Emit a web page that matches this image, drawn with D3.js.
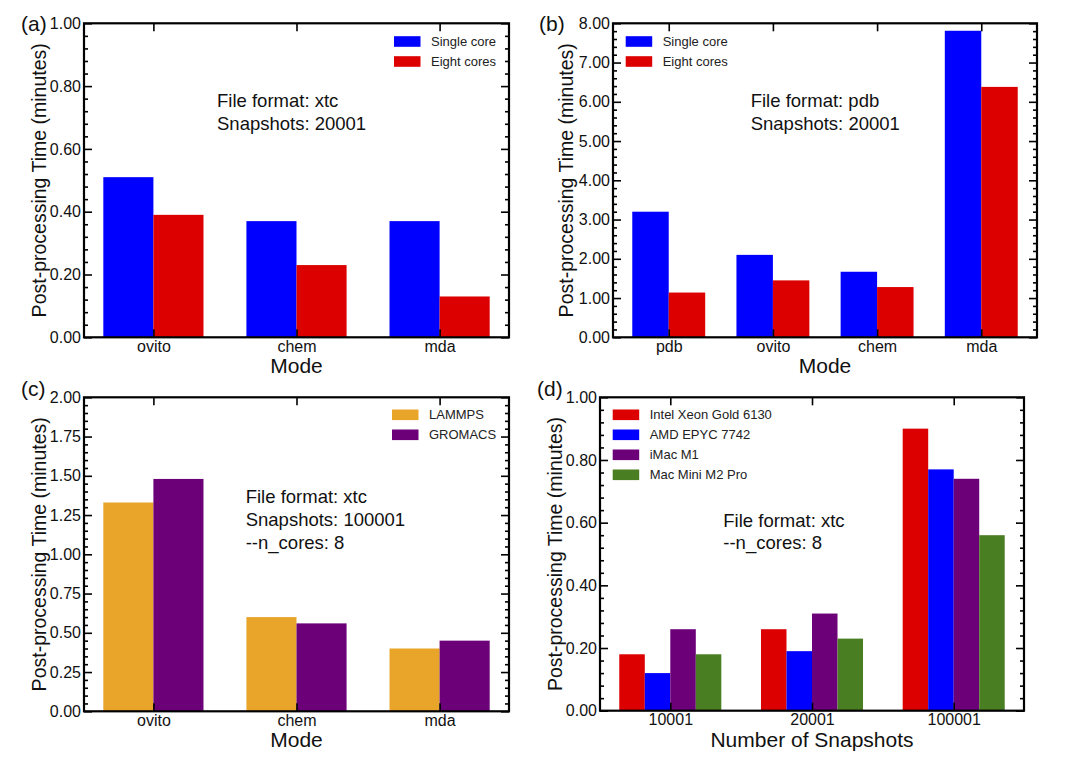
<!DOCTYPE html>
<html>
<head>
<meta charset="utf-8">
<script src="https://cdn.jsdelivr.net/npm/d3@7"></script>
<style>
  html, body { margin: 0; padding: 0; background: #fff; }
  svg { display: block; }
</style>
</head>
<body>
<svg id="chart" width="1080" height="768"></svg>
<script>
// ---------------- DATA ----------------
const modesA = ["ovito", "chem", "mda"];
const singleCoreA = [0.51, 0.37, 0.37];
const eightCoresA = [0.39, 0.23, 0.13];

const modesB = ["pdb", "ovito", "chem", "mda"];
const singleCoreB = [3.20, 2.10, 1.67, 7.81];
const eightCoresB = [1.14, 1.45, 1.28, 6.38];

const modesC = ["ovito", "chem", "mda"];
const lammpsC = [1.33, 0.60, 0.40];
const gromacsC = [1.48, 0.56, 0.45];

const snapshotsD = ["10001", "20001", "100001"];
const intelD = [0.18, 0.26, 0.90];
const amdD = [0.12, 0.19, 0.77];
const imacD = [0.26, 0.31, 0.74];
const macMiniD = [0.18, 0.23, 0.56];

const yTicksA = [0, 0.2, 0.4, 0.6, 0.8, 1.0];
const yTicksB = [0, 1, 2, 3, 4, 5, 6, 7, 8];
const yTicksC = [0, 0.25, 0.5, 0.75, 1.0, 1.25, 1.5, 1.75, 2.0];
const yTicksD = [0, 0.2, 0.4, 0.6, 0.8, 1.0];

const seriesNamesA = ["Single core", "Eight cores"];
const seriesNamesC = ["LAMMPS", "GROMACS"];
const seriesNamesD = ["Intel Xeon Gold 6130", "AMD EPYC 7742", "iMac M1", "Mac Mini M2 Pro"];

const notesA = ["File format: xtc", "Snapshots: 20001"];
const notesB = ["File format: pdb", "Snapshots: 20001"];
const notesC = ["File format: xtc", "Snapshots: 100001", "--n_cores: 8"];
const notesD = ["File format: xtc", "--n_cores: 8"];

// ---------------- STYLE ----------------
const FONT = "'Liberation Sans', Arial, Helvetica, sans-serif";
const BLUE = "#0000FF", RED = "#DC0000", ORANGE = "#E8A52A", PURPLE = "#6C0078", GREEN = "#4A7E23";
const svg = d3.select("#chart");

function drawPanel(cfg) {
  const g = svg.append("g");
  const n = cfg.cats.length;
  const k = cfg.series.length;
  const w = cfg.barWidth;
  const offsets = d3.range(k).map(i => (i - (k - 1) / 2) * w);
  const lo = d3.min(offsets) - w / 2;
  const hi = (n - 1) + d3.max(offsets) + w / 2;
  const pad = (hi - lo) * 0.05;
  const x = d3.scaleLinear().domain([lo - pad, hi + pad]).range([cfg.x0, cfg.x1]);
  const y = d3.scaleLinear().domain(cfg.yDomain).range([cfg.y1, cfg.y0]);

  // bars
  cfg.series.forEach((s, i) => {
    g.append("g").selectAll("rect").data(s.values).join("rect")
      .attr("x", (d, j) => x(j + offsets[i] - w / 2))
      .attr("width", x(w) - x(0))
      .attr("y", d => y(d))
      .attr("height", d => y(0) - y(d))
      .attr("fill", s.color);
  });

  // minor y ticks
  const major = cfg.yTicks;
  const minor = [];
  for (let i = 0; i < major.length - 1; i++) {
    const step = (major[i + 1] - major[i]) / 5;
    for (let m = 1; m < 5; m++) minor.push(major[i] + m * step);
  }
  const styleAxis = sel => {
    sel.select(".domain").remove();
    sel.selectAll(".tick line").attr("stroke", "#000").attr("stroke-width", 1.6);
    sel.selectAll(".tick text").attr("font-family", FONT).attr("font-size", 16).attr("fill", "#111");
  };
  g.append("g").attr("transform", `translate(${cfg.x0},0)`)
    .call(d3.axisLeft(y).tickValues(major).tickSize(-8).tickPadding(3).tickFormat(d3.format(".2f")))
    .call(styleAxis);
  g.append("g").attr("transform", `translate(${cfg.x0},0)`)
    .call(d3.axisLeft(y).tickValues(minor).tickSize(-4).tickFormat(""))
    .call(styleAxis);
  g.append("g").attr("transform", `translate(${cfg.x1},0)`)
    .call(d3.axisRight(y).tickValues(major).tickSize(-8).tickFormat(""))
    .call(styleAxis);
  g.append("g").attr("transform", `translate(${cfg.x1},0)`)
    .call(d3.axisRight(y).tickValues(minor).tickSize(-4).tickFormat(""))
    .call(styleAxis);
  g.append("g").attr("transform", `translate(0,${cfg.y1})`)
    .call(d3.axisBottom(x).tickValues(d3.range(n)).tickSize(-8).tickPadding(3).tickFormat(i => cfg.cats[i]))
    .call(styleAxis);
  g.append("g").attr("transform", `translate(0,${cfg.y0})`)
    .call(d3.axisTop(x).tickValues(d3.range(n)).tickSize(-8).tickFormat(""))
    .call(styleAxis);

  // frame
  g.append("rect").attr("x", cfg.x0).attr("y", cfg.y0)
    .attr("width", cfg.x1 - cfg.x0).attr("height", cfg.y1 - cfg.y0)
    .attr("fill", "none").attr("stroke", "#000").attr("stroke-width", 2.2);

  // axis titles
  g.append("text").attr("x", (cfg.x0 + cfg.x1) / 2).attr("y", cfg.y1 + 36)
    .attr("text-anchor", "middle").attr("font-family", FONT).attr("font-size", 21).attr("fill", "#111")
    .text(cfg.xLabel);
  g.append("text")
    .attr("transform", `translate(${cfg.yLabelX},${(cfg.y0 + cfg.y1) / 2}) rotate(-90)`)
    .attr("text-anchor", "middle").attr("dominant-baseline", "central")
    .attr("font-family", FONT).attr("font-size", 19.5).attr("fill", "#111")
    .text("Post-processing Time (minutes)");

  // panel letter
  g.append("text").attr("x", cfg.letterX).attr("y", cfg.letterY)
    .attr("font-family", FONT).attr("font-size", 21).attr("fill", "#111").text(cfg.letter);

  // notes
  cfg.notes.forEach((t, i) => {
    g.append("text").attr("x", cfg.noteX).attr("y", cfg.noteY + i * 22.7)
      .attr("font-family", FONT).attr("font-size", 18.5).attr("fill", "#111").text(t);
  });

  // legend
  cfg.series.forEach((s, i) => {
    const cy = cfg.legY + i * 20;
    g.append("rect").attr("x", cfg.legX).attr("y", cy - 5.3).attr("width", 26.5).attr("height", 10.6)
      .attr("fill", s.color);
    g.append("text").attr("x", cfg.legX + 37).attr("y", cy).attr("dominant-baseline", "central")
      .attr("font-family", FONT).attr("font-size", 13).attr("fill", "#222").text(s.name);
  });
}

drawPanel({
  letter: "(a)", letterX: 21, letterY: 31,
  x0: 84, x1: 509, y0: 23.3, y1: 337.3, yDomain: [0, 1], yTicks: yTicksA,
  cats: modesA, barWidth: 0.35, xLabel: "Mode", yLabelX: 38.5,
  series: [{ name: seriesNamesA[0], values: singleCoreA, color: BLUE },
           { name: seriesNamesA[1], values: eightCoresA, color: RED }],
  notes: notesA, noteX: 217, noteY: 107.3,
  legX: 394, legY: 41.5
});

drawPanel({
  letter: "(b)", letterX: 539, letterY: 31,
  x0: 613, x1: 1037, y0: 23.3, y1: 337.3, yDomain: [0, 8], yTicks: yTicksB,
  cats: modesB, barWidth: 0.35, xLabel: "Mode", yLabelX: 566,
  series: [{ name: seriesNamesA[0], values: singleCoreB, color: BLUE },
           { name: seriesNamesA[1], values: eightCoresB, color: RED }],
  notes: notesB, noteX: 750.7, noteY: 107.3,
  legX: 625.7, legY: 41.5
});

drawPanel({
  letter: "(c)", letterX: 21, letterY: 396,
  x0: 84, x1: 509, y0: 397.3, y1: 711.3, yDomain: [0, 2], yTicks: yTicksC,
  cats: modesC, barWidth: 0.35, xLabel: "Mode", yLabelX: 38.5,
  series: [{ name: seriesNamesC[0], values: lammpsC, color: ORANGE },
           { name: seriesNamesC[1], values: gromacsC, color: PURPLE }],
  notes: notesC, noteX: 245.7, noteY: 503.3,
  legX: 392, legY: 414.8
});

drawPanel({
  letter: "(d)", letterX: 537, letterY: 396,
  x0: 600, x1: 1024, y0: 397.3, y1: 710.7, yDomain: [0, 1], yTicks: yTicksD,
  cats: snapshotsD, barWidth: 0.18, xLabel: "Number of Snapshots", yLabelX: 555,
  series: [{ name: seriesNamesD[0], values: intelD, color: RED },
           { name: seriesNamesD[1], values: amdD, color: BLUE },
           { name: seriesNamesD[2], values: imacD, color: PURPLE },
           { name: seriesNamesD[3], values: macMiniD, color: GREEN }],
  notes: notesD, noteX: 723.3, noteY: 526.7,
  legX: 612.7, legY: 414.8
});
</script>
</body>
</html>
